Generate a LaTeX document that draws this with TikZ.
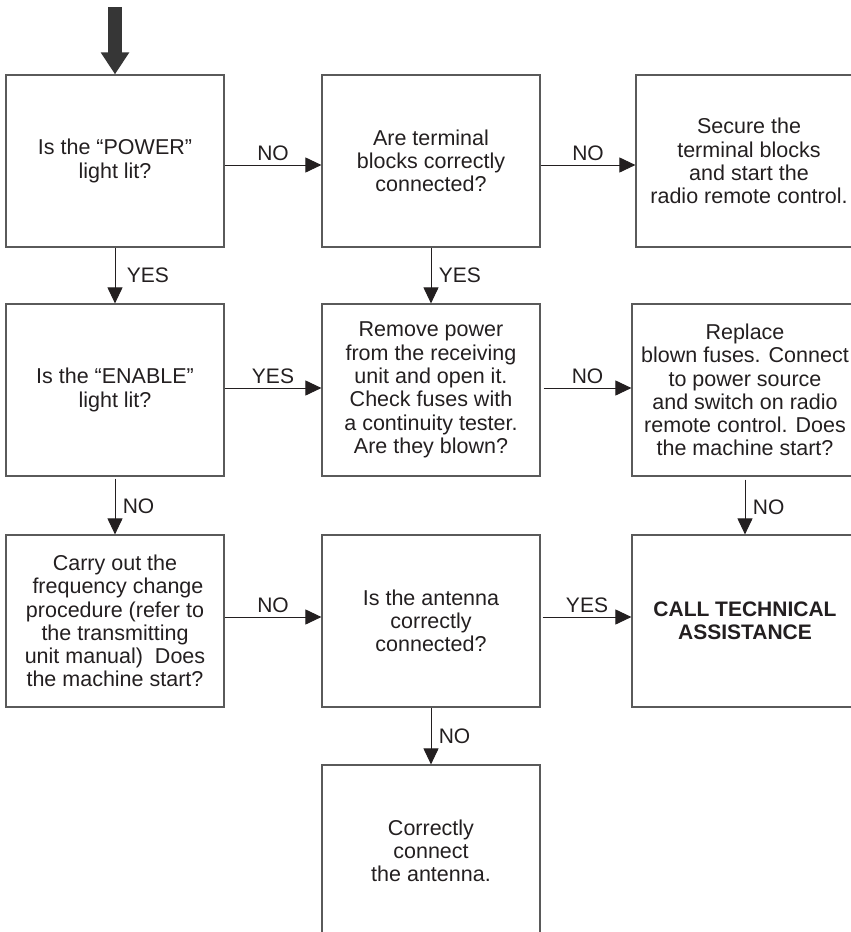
\documentclass[tikz,border=0pt]{standalone}
\usepackage{fontspec}
\setmainfont{Liberation Sans}
\usetikzlibrary{arrows.meta}
\definecolor{ink}{HTML}{231F20}
\definecolor{frame}{HTML}{5A5A5A}
\definecolor{bigarrow}{HTML}{363636}

\begin{document}
\begin{tikzpicture}[x=1pt,y=-1pt,
        box/.style={draw=frame,line width=1.2pt,minimum width=218pt,minimum height=172pt,
            inner sep=0pt,align=center,text=ink,font=\fontsize{21.5}{23.3}\selectfont},
        wide/.style={minimum width=226pt},
        flow/.style={draw=ink,line width=1pt,-{Triangle[length=16pt,width=15pt]}},
        lab/.style={text=ink,font=\fontsize{21}{23}\selectfont}]
        \useasboundingbox (0,0) rectangle (851,932);
        \clip (0,0) rectangle (851,932);
        % boxes
        \node[box] (power) at (115,161) {Is the “POWER”\\light lit?};
        \node[box] (terminal) at (431,161) {Are terminal\\blocks correctly\\connected?};
        \node[box,wide] (secure) at (749,161) {Secure the\\terminal blocks\\and start the\\radio remote control.};
        \node[box] (enable) at (115,390) {Is the “ENABLE”\\light lit?};
        \node[box] (fuses) at (431,390) {Remove power\\from the receiving\\unit and open it.\\Check fuses with\\a continuity tester.\\Are they blown?};
        \node[box,wide] (replace) at (745,390) {Replace\\blown fuses. Connect\\to power source\\and switch on radio\\remote control. Does\\the machine start?};
        \node[box] (freq) at (115,621) {Carry out the\\\ frequency change\\procedure (refer to\\the transmitting\\unit manual)\ \ Does\\the machine start?};
        \node[box] (antenna) at (431,621) {Is the antenna\\correctly\\connected?};
        \node[box,wide,font=\fontsize{21}{23.3}\selectfont\bfseries] (assist) at (745,621) {CALL TECHNICAL\\ASSISTANCE};
        \node[box] (connect) at (431,851) {Correctly\\connect\\the antenna.};
        % entry arrow
        \coordinate (start) at (115,7);
        \draw[draw=bigarrow,line width=14pt,-{Triangle[length=22pt,width=27pt]}] (start) -- (power.north);
        % connectors
        \draw[flow] ([yshift=-4pt]power.east) -- node[above,lab] {NO} ([yshift=-4pt]terminal.west);
        \draw[flow] ([yshift=-4pt]terminal.east) -- node[above,lab] {NO} ([yshift=-4pt]secure.west);
        \draw[flow] ([yshift=2pt]enable.east) -- node[above,lab] {YES} ([yshift=2pt]fuses.west);
        \draw[flow] ([xshift=3pt,yshift=2pt]fuses.east) -- node[above,lab] {NO} ([yshift=2pt]replace.west);
        \draw[flow] ([yshift=4pt]freq.east) -- node[above,lab] {NO} ([yshift=4pt]antenna.west);
        \draw[flow] ([xshift=2pt,yshift=4pt]antenna.east) -- node[above,lab] {YES} ([yshift=4pt]assist.west);
        \draw[flow] (power.south) -- node[right,lab,xshift=8pt] {YES} (enable.north);
        \draw[flow] (terminal.south) -- node[right,lab,xshift=4pt] {YES} (fuses.north);
        \draw[flow] ([yshift=-2pt]enable.south) -- node[right,lab,xshift=4pt] {NO} (freq.north);
        \draw[flow] ([yshift=-3pt]replace.south) -- node[right,lab,xshift=4pt] {NO} (assist.north);
        \draw[flow] (antenna.south) -- node[right,lab,xshift=4pt] {NO} (connect.north);
      \end{tikzpicture}
\end{document}
